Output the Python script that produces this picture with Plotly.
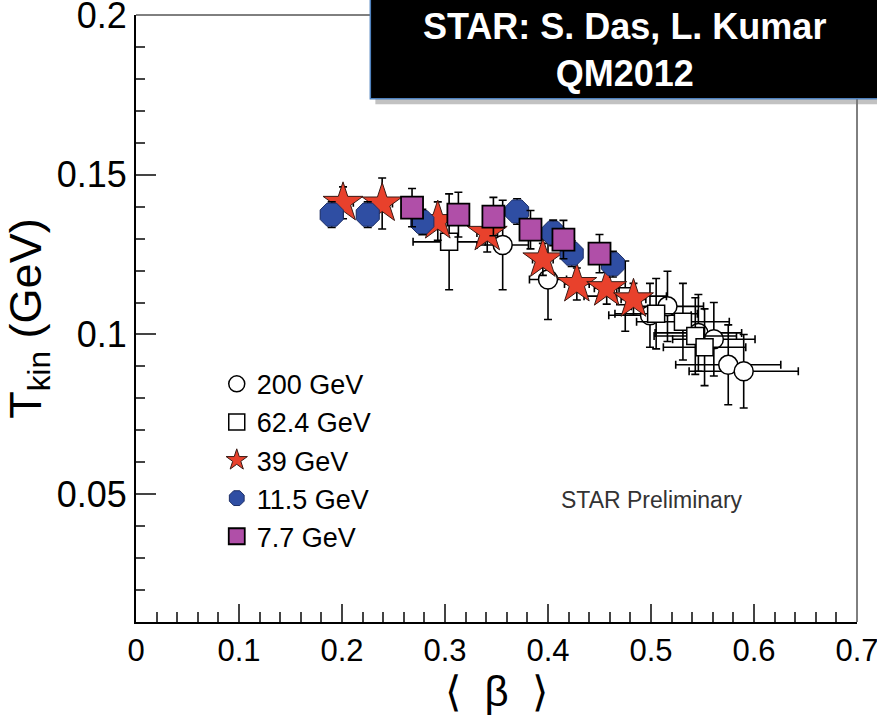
import plotly.graph_objects as go

# ---- data ----
labels = ["200 GeV", "62.4 GeV", "39 GeV", "11.5 GeV", "7.7 GeV"]
x_ticks = [0, 0.1, 0.2, 0.3, 0.4, 0.5, 0.6, 0.7]
x_tick_text = ["0", "0.1", "0.2", "0.3", "0.4", "0.5", "0.6", "0.7"]
y_ticks = [0.05, 0.1, 0.15, 0.2]
y_tick_text = ["0.05", "0.1", "0.15", "0.2"]

x_200 = [0.356, 0.400, 0.499, 0.516, 0.546, 0.561, 0.575, 0.590]
y_200 = [0.1280, 0.1172, 0.1060, 0.1088, 0.1005, 0.0985, 0.0905, 0.0885]
xe_200 = [0.025, 0.018, 0.040, 0.035, 0.042, 0.040, 0.051, 0.053]
ye_200 = [0.0140, 0.0125, 0.0100, 0.0110, 0.0120, 0.0115, 0.0125, 0.0115]

x_62 = [0.304, 0.475, 0.505, 0.531, 0.543, 0.552]
y_62 = [0.1290, 0.1120, 0.1065, 0.1040, 0.0995, 0.0960]
xe_62 = [0.035, 0.040, 0.040, 0.045, 0.040, 0.040]
ye_62 = [0.0150, 0.0110, 0.0110, 0.0120, 0.0120, 0.0120]

x_39 = [0.201, 0.239, 0.293, 0.341, 0.395, 0.428, 0.457, 0.483]
y_39 = [0.1412, 0.1410, 0.1355, 0.1318, 0.1235, 0.1158, 0.1145, 0.1110]
xe_39 = [0.010, 0.010, 0.010, 0.010, 0.010, 0.012, 0.012, 0.012]
ye_39 = [0.0050, 0.0080, 0.0060, 0.0060, 0.0050, 0.0050, 0.0050, 0.0050]

x_11 = [0.190, 0.225, 0.278, 0.370, 0.405, 0.423, 0.463]
y_11 = [0.1375, 0.1375, 0.1352, 0.1385, 0.1318, 0.1253, 0.1220]
xe_11 = [0.010, 0.010, 0.010, 0.010, 0.010, 0.010, 0.010]
ye_11 = [0.0040, 0.0040, 0.0040, 0.0040, 0.0040, 0.0040, 0.0040]

x_77 = [0.268, 0.313, 0.347, 0.383, 0.415, 0.450]
y_77 = [0.1397, 0.1375, 0.1369, 0.1328, 0.1297, 0.1253]
xe_77 = [0.010, 0.010, 0.010, 0.010, 0.010, 0.010]
ye_77 = [0.0060, 0.0070, 0.0060, 0.0060, 0.0060, 0.0060]

# ---- styles ----
FONT = "Liberation Sans, Arial, Helvetica, sans-serif"
series = [
    (x_200, y_200, xe_200, ye_200, dict(symbol="circle", size=19, color="white",
                                         line=dict(color="black", width=1.5))),
    (x_62, y_62, xe_62, ye_62, dict(symbol="square", size=17, color="white",
                                     line=dict(color="black", width=1.5))),
    (x_39, y_39, xe_39, ye_39, dict(symbol="star", size=30, color="#e8412c",
                                     line=dict(color="#3a1a14", width=1))),
    (x_11, y_11, xe_11, ye_11, dict(symbol="octagon", size=25, color="#2f4ea3",
                                     line=dict(color="#1d2f66", width=1))),
    (x_77, y_77, xe_77, ye_77, dict(symbol="square", size=22, color="#b04fa8",
                                     line=dict(color="black", width=1.8))),
]

fig = go.Figure()
for (xs, ys, xe, ye, mk), name in zip(series, labels):
    fig.add_trace(go.Scatter(
        x=xs, y=ys, mode="markers", name=name, marker=mk,
        error_x=dict(type="data", array=xe, color="black", thickness=1.6, width=4),
        error_y=dict(type="data", array=ye, color="black", thickness=1.6, width=4),
        legendgroup=name,
    ))

fig.update_layout(
    width=877, height=717,
    margin=dict(l=136, r=20, t=15, b=95),
    paper_bgcolor="white", plot_bgcolor="white",
    font=dict(family=FONT, color="black"),
    showlegend=True,
    legend=dict(x=0.112, y=0.432, xanchor="left", yanchor="top",
                bgcolor="rgba(0,0,0,0)", font=dict(size=27, family=FONT),
                tracegroupgap=0, itemsizing="trace"),
    xaxis=dict(range=[0, 0.7], tickvals=x_ticks, ticktext=x_tick_text,
               ticklabeloverflow="allow", automargin=False,
               showgrid=False, zeroline=False, showline=True, linewidth=2,
               linecolor="black", ticks="inside", ticklen=18, tickwidth=2,
               tickfont=dict(size=31),
               minor=dict(dtick=0.02, tick0=0, ticks="inside", ticklen=10, tickwidth=1.5,
                          showgrid=False),
               title=dict(text="⟨  β  ⟩", font=dict(size=42), standoff=8)),
    yaxis=dict(range=[0.01, 0.2], tickvals=y_ticks, ticktext=y_tick_text,
               ticklabeloverflow="allow", automargin=False,
               showgrid=False, zeroline=False, showline=True, linewidth=2,
               linecolor="black", ticks="inside", ticklen=20, tickwidth=2,
               tickfont=dict(size=36),
               minor=dict(dtick=0.01, tick0=0, ticks="inside", ticklen=9, tickwidth=1.5,
                          showgrid=False),
               title=dict(text="T<sub>kin</sub> (GeV)", font=dict(size=45), standoff=8)),
)

# top and right frame lines (thin)
fig.add_shape(type="line", xref="paper", yref="paper", x0=0, x1=1, y0=1, y1=1,
              line=dict(color="black", width=1))
fig.add_shape(type="line", xref="paper", yref="paper", x0=1, x1=1, y0=0, y1=1,
              line=dict(color="black", width=1))

# title box with shadow
fig.add_shape(type="rect", xref="paper", yref="paper", x0=0.332, x1=1.1, y0=0.853, y1=1.1,
              fillcolor="rgba(120,120,120,0.45)", line=dict(width=0), layer="above")
fig.add_shape(type="rect", xref="paper", yref="paper", x0=0.325, x1=1.1, y0=0.862, y1=1.1,
              fillcolor="black", line=dict(color="#4f81bd", width=1.5), layer="above")
fig.add_annotation(xref="paper", yref="paper", x=0.678, y=0.943,
                   text="<b>STAR: S. Das, L. Kumar</b><br><b>QM2012</b>",
                   showarrow=False, font=dict(size=36, color="white", family=FONT),
                   xanchor="center", yanchor="middle")
fig.add_annotation(xref="paper", yref="paper", x=0.716, y=0.201,
                   text="STAR Preliminary", showarrow=False,
                   font=dict(size=23, color="#333333", family=FONT),
                   xanchor="center", yanchor="middle")

fig.write_html("out.html")
